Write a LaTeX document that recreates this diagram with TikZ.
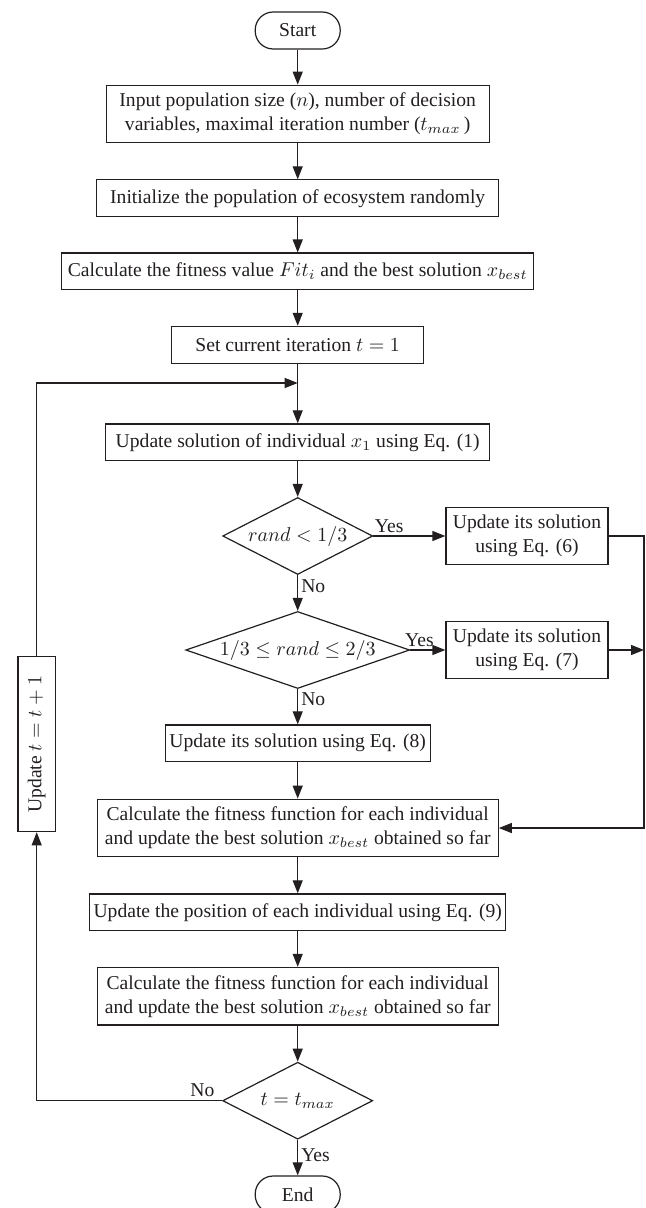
\documentclass[tikz,border=0pt]{standalone}
\usepackage{fontspec}
\setmainfont{Liberation Serif}
\usepackage{xcolor}
\usepackage{tikz}
\usetikzlibrary{arrows.meta, positioning, shapes.geometric, calc}
\definecolor{encre}{HTML}{231F20}
\tikzset{
  bloc/.style={rectangle, draw=encre, line width=0.6pt, fill=white,
    text=encre, align=center, inner sep=2pt, minimum height=18.4pt,
    font=\fontsize{9.8}{12}\selectfont},
  blocdouble/.style={bloc, minimum height=28.8pt},
  terminal/.style={bloc, rounded corners=9pt, minimum width=42.5pt,
    minimum height=18.5pt},
  decision/.style={diamond, draw=encre, line width=0.6pt, fill=white,
    text=encre, inner sep=0pt, aspect=1.95, minimum height=38.5pt,
    font=\fontsize{9.8}{12}\selectfont},
  fleche/.style={-{Triangle[length=6.5pt, width=5pt]}, line width=0.6pt,
    draw=encre},
  etiquette/.style={text=encre, inner sep=1.5pt,
    font=\fontsize{9.8}{12}\selectfont}
}
\begin{document}
\begin{tikzpicture}[x=0.5pt, y=-0.5pt]
    \useasboundingbox (0,0) rectangle (646,1208);

    \node[terminal] (debut) at (297.7,30.5) {Start};
    \node[blocdouble, minimum width=191.5pt] (entree) at (297.7,114)
      {Input population size ($n$), number of decision\\
       variables, maximal iteration number ($t_{max}$\,)};
    \node[bloc, minimum width=201pt] (init) at (297.7,198.3)
      {Initialize the population of ecosystem randomly};
    \node[bloc, minimum width=236pt] (fit) at (297.7,271.5)
      {Calculate the fitness value $Fit_i$ and the best solution $x_{best}$};
    \node[bloc, minimum width=126pt] (iter) at (297.7,344.8)
      {Set current iteration $t=1$};
    \coordinate (jonction) at (297.7,383);
    \node[bloc, minimum width=192pt] (maj1) at (297.7,442.3)
      {Update solution of individual $x_1$ using Eq. (1)};
    \node[decision, minimum width=75pt] (test1) at (297.7,536)
      {$rand<1/3$};
    \node[blocdouble, minimum width=81pt] (maj6) at (527,536)
      {Update its solution\\ using Eq. (6)};
    \node[decision, aspect=2.9, minimum width=112pt] (test2) at (297.7,650)
      {$1/3\leq rand\leq 2/3$};
    \node[blocdouble, minimum width=81pt] (maj7) at (527,650)
      {Update its solution\\ using Eq. (7)};
    \coordinate (droite) at (644,650);
    \node[bloc, minimum width=132.5pt] (maj8) at (297.7,743.3)
      {Update its solution using Eq. (8)};
    \node[blocdouble, minimum width=200.5pt] (eval1) at (297.7,828)
      {Calculate the fitness function for each individual\\
       and update the best solution $x_{best}$\ obtained so far};
    \node[bloc, minimum width=207.5pt] (maj9) at (297.7,912.3)
      {Update the position of each individual using Eq. (9)};
    \node[blocdouble, minimum width=200.5pt] (eval2) at (297.7,996.2)
      {Calculate the fitness function for each individual\\
       and update the best solution $x_{best}$\ obtained so far};
    \node[decision, minimum width=75pt] (test3) at (297.7,1100.7)
      {$t=t_{max}$};
    \node[terminal] (fin) at (297.7,1194.5) {End};
    \node[bloc, rotate=90, minimum width=87.5pt, minimum height=18.7pt]
      (majt) at (36.7,744.2) {Update $t=t+1$};

    % main column
    \draw[fleche] (debut) -- (entree);
    \draw[fleche] (entree) -- (init);
    \draw[fleche] (init) -- (fit);
    \draw[fleche] (fit) -- (iter);
    \draw[fleche] (iter) -- (maj1);
    \draw[fleche] (maj1) -- (test1);
    \draw[fleche] (test1) -- node[etiquette, right, pos=0.32]{No} (test2);
    \draw[fleche] (test2) -- node[etiquette, right, pos=0.3]{No} (maj8);
    \draw[fleche] (maj8) -- (eval1);
    \draw[fleche] (eval1) -- (maj9);
    \draw[fleche] (maj9) -- (eval2);
    \draw[fleche] (eval2) -- (test3);
    \draw[fleche] (test3) -- node[etiquette, right, pos=0.43]{Yes} (fin);

    % branches on the right
    \draw[fleche] (test1) -- node[etiquette, above, pos=0.22]{Yes} (maj6);
    \draw[fleche] (test2) -- node[etiquette, above, pos=0.26]{Yes} (maj7);
    \draw[fleche] (maj6) -| (droite) |- (eval1);
    \draw[fleche] (maj7) -- (droite);

    % loop back
    \draw[fleche] (test3) -| node[etiquette, above, pos=0.053]{No} (majt.west);
    \draw[fleche] (majt.east) |- (jonction);
\end{tikzpicture}
\end{document}
